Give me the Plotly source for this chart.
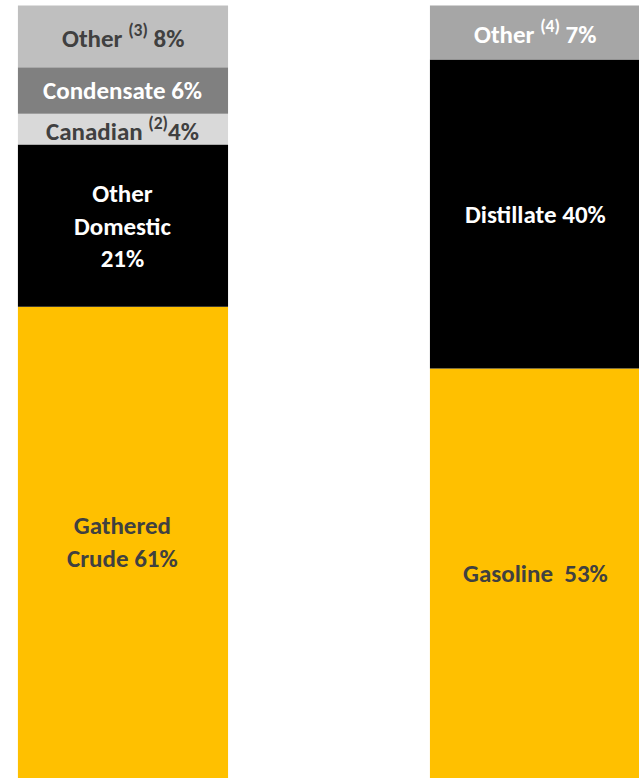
import plotly.graph_objects as go

# Crude supply mix (left column) and refined product mix (right column), percent
supply_names = ["Gathered<br>Crude", "Other<br>Domestic<br>", "Canadian", "Condensate", "Other"]
supply_notes = ["", "", " <sup>(2)</sup>", "", " <sup>(3)</sup>"]
supply_values = [61, 21, 4, 6, 8]
supply_colors = ["#FFC000", "#000000", "#D9D9D9", "#808080", "#BFBFBF"]
supply_text_colors = ["#404040", "#FFFFFF", "#404040", "#FFFFFF", "#404040"]

product_names = ["Gasoline ", "Distillate", "Other"]
product_notes = ["", "", " <sup>(4)</sup>"]
product_values = [53, 40, 7]
product_colors = ["#FFC000", "#000000", "#A6A6A6"]
product_text_colors = ["#404040", "#FFFFFF", "#FFFFFF"]

FONT = "Carlito, Lato, Open Sans, sans-serif"

fig = go.Figure()
annotations = []


def add_column(x, names, notes, values, colors, text_colors):
    base = 0
    for name, note, v, c, tc in zip(names, notes, values, colors, text_colors):
        fig.add_trace(go.Bar(
            x=[x], y=[v], base=[base], width=0.51,
            marker=dict(color=c, line=dict(width=0)),
            showlegend=False, hoverinfo="skip",
        ))
        joiner = "" if name.endswith("<br>") or note.startswith(" <sup>(2)") else " "
        text = f"{name}{note}{joiner}{v}%"
        annotations.append(dict(
            x=x, y=base + v / 2, xref="x", yref="y", text=f"<b>{text}</b>",
            showarrow=False, font=dict(family=FONT, size=25, color=tc),
            xanchor="center", yanchor="middle",
        ))
        base += v


add_column(0, supply_names, supply_notes, supply_values, supply_colors, supply_text_colors)
add_column(1, product_names, product_notes, product_values, product_colors, product_text_colors)

fig.update_layout(
    width=639, height=778,
    margin=dict(l=0, r=0, t=0, b=0),
    paper_bgcolor="white", plot_bgcolor="white",
    barmode="overlay",
    xaxis=dict(range=[-0.2985, 1.2524], visible=False, fixedrange=True),
    yaxis=dict(range=[0, 100.71], visible=False, fixedrange=True),
    annotations=annotations,
)

fig.write_html("out.html")
